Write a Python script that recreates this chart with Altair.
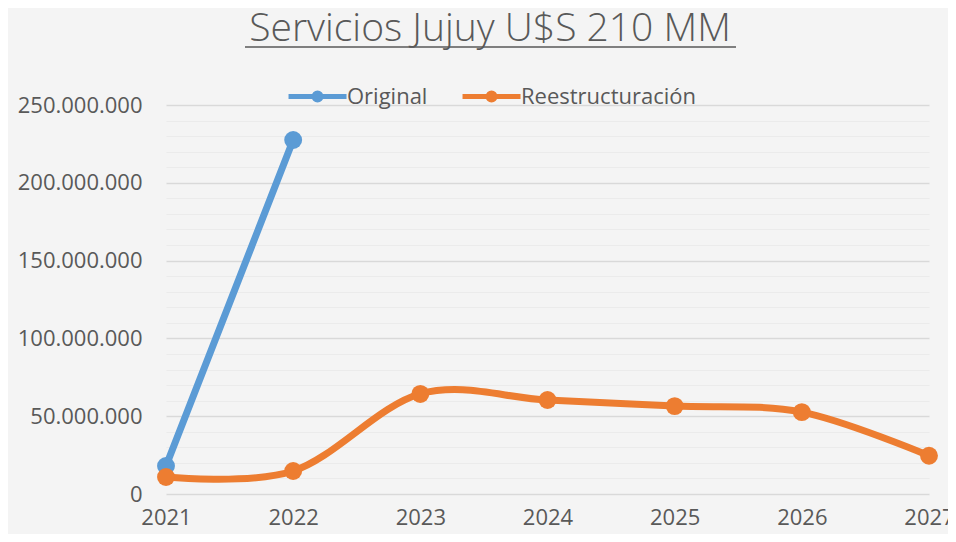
import altair as alt
import pandas as pd

years = [2021, 2022, 2023, 2024, 2025, 2026, 2027]
original_years = [2021, 2022]
original = [18_000_000, 227_500_000]
reestructuracion = [10_900_000, 14_800_000, 64_300_000, 60_400_000, 56_500_000, 52_600_000, 24_600_000]
series_names = ["Original", "Reestructuración"]
colors = ["#5B9BD5", "#ED7D31"]
y_ticks = list(range(0, 250_000_001, 10_000_000))
title_text = "Servicios Jujuy U$S 210 MM"

rows = []
for yr, v in zip(original_years, original):
    rows.append({"year": yr, "value": v, "series": series_names[0], "order": 0})
for yr, v in zip(years, reestructuracion):
    rows.append({"year": yr, "value": v, "series": series_names[1], "order": 1})
df = pd.DataFrame(rows)

FONT = "Open Sans"
TXT = "#595959"

x_enc = alt.X(
    "year:Q",
    scale=alt.Scale(domain=[years[0], years[-1]], nice=False),
    axis=alt.Axis(values=years, format="d", title=None, grid=False, domain=False,
                  ticks=False, labelPadding=13, labelFontSize=22, labelFont=FONT,
                  labelColor=TXT, labelFlush=False),
)
y_enc = alt.Y(
    "value:Q",
    scale=alt.Scale(domain=[0, 250_000_000], nice=False),
    axis=alt.Axis(
        values=y_ticks, title=None, domain=False, ticks=False,
        labelExpr="datum.value % 50000000 === 0 ? replace(replace(format(datum.value, ','), ',', '.'), ',', '.') : ''",
        labelFontSize=22, labelFont=FONT, labelColor=TXT, labelPadding=24,
        gridColor={"condition": {"test": "datum.value % 50000000 === 0", "value": "#D9D9D9"}, "value": "#EBEBEB"},
        gridWidth={"condition": {"test": "datum.value % 50000000 === 0", "value": 1.5}, "value": 1},
    ),
)
color_scale = alt.Scale(domain=series_names, range=colors)

sym_path = "M-0.93,0H1.07M0.07,0m-0.12,0a0.12,0.12 0 1,0 0.24,0a0.12,0.12 0 1,0 -0.24,0"

line = alt.Chart(df).mark_line(interpolate="cardinal", strokeWidth=7, strokeCap="round").encode(
    x=x_enc, y=y_enc,
    color=alt.Color("series:N", scale=color_scale, sort=series_names,
                    legend=alt.Legend(title=None, orient="none", legendX=118, legendY=-40,
                                      direction="horizontal", symbolType=sym_path,
                                      symbolSize=3364, symbolStrokeWidth=5,
                                      labelFontSize=22, labelFont=FONT, labelColor=TXT,
                                      labelLimit=400, columnPadding=24, labelOffset=0,
                                      padding=0)),
    order="order:Q",
)
points = alt.Chart(df).mark_circle(size=320, opacity=1).encode(
    x=x_enc, y=y_enc,
    color=alt.Color("series:N", scale=color_scale, sort=series_names),
    order="order:Q",
)

title_df = pd.DataFrame({"t": [title_text]})
title = alt.Chart(title_df).mark_text(
    font=FONT, fontSize=39, fontWeight=300, color=TXT, align="center", baseline="alphabetic"
).encode(text="t:N", x=alt.value(324), y=alt.value(-64))
underline = alt.Chart(title_df).mark_rule(color=TXT, strokeWidth=1.5).encode(
    x=alt.value(79), x2=alt.value(570), y=alt.value(-58)
)

chart = alt.layer(line, points, title, underline).properties(
    width=763, height=389,
    autosize=alt.AutoSizeParams(type="none"),
    padding={"left": 158, "top": 97, "right": 19, "bottom": 40},
    background="#F4F4F4",
).configure_view(stroke=None)

chart.save("out.html", embed_options={"renderer": "svg", "actions": False})
